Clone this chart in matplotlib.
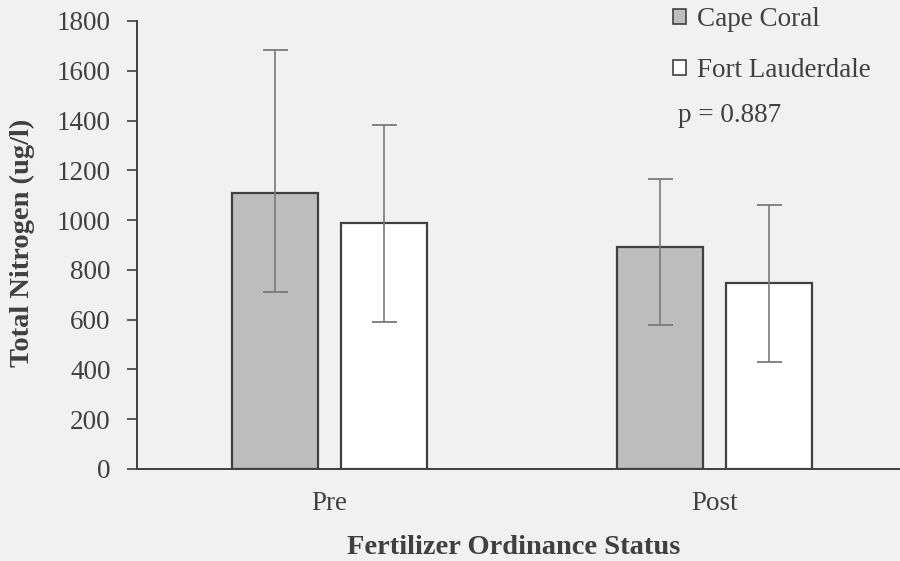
#imports
import numpy as np
import matplotlib.pyplot as plt
from matplotlib.patches import Patch

#data
categories = ["Pre", "Post"]
series_names = ["Cape Coral", "Fort Lauderdale"]
cape_coral = [1110, 893]
cape_coral_err_low = [398, 315]
cape_coral_err_high = [575, 272]
fort_lauderdale = [988, 747]
fort_lauderdale_err_low = [397, 317]
fort_lauderdale_err_high = [394, 314]
y_ticks = [0, 200, 400, 600, 800, 1000, 1200, 1400, 1600, 1800]

#style
plt.rcParams["font.family"] = ["Liberation Serif", "DejaVu Serif"]
bg = "#f1f1f1"
edge = "#404040"
text_col = "#404040"
err_style = dict(ecolor="#7a7a7a", elinewidth=1.2, capsize=9, capthick=1.3)

fig = plt.figure(figsize=(9, 5.61), dpi=100)
fig.patch.set_facecolor(bg)

#axes in pixel terms, right side runs off the edge like the scan
W, H = 900, 561
left, right, bottom, top = 137, 907, 469, 21
ax = fig.add_axes([left / W, 1 - bottom / H, (right - left) / W, (bottom - top) / H])
ax.set_facecolor(bg)

x = np.arange(len(categories))
width = 0.224
offset = 0.142

#bars with (asymmetric) error bars
ax.bar(x - offset, cape_coral, width, color="#bdbdbd", edgecolor=edge, linewidth=1.6,
       yerr=[cape_coral_err_low, cape_coral_err_high], error_kw=err_style)
ax.bar(x + offset, fort_lauderdale, width, color="white", edgecolor=edge, linewidth=1.6,
       yerr=[fort_lauderdale_err_low, fort_lauderdale_err_high], error_kw=err_style)

ax.set_xlim(-0.5, 1.5)
ax.set_ylim(0, 1800)
ax.set_yticks(y_ticks)
ax.set_yticklabels([str(t) for t in y_ticks], fontsize=19.5, color=text_col)
ax.set_xticks(x)
ax.set_xticklabels(categories, fontsize=19.5, color=text_col)
ax.tick_params(axis="x", length=0, pad=16)
ax.tick_params(axis="y", length=7, width=1.2, color=edge, pad=12)

for s in ["top", "right"]:
    ax.spines[s].set_visible(False)
for s in ["left", "bottom"]:
    ax.spines[s].set_color(edge)
    ax.spines[s].set_linewidth(1.4)

#labels
fig.text(22 / W, 1 - 243 / H, "Total Nitrogen (ug/l)", rotation=90, ha="center", va="center",
         fontsize=20.5, fontweight="bold", color=text_col)
fig.text(514 / W, 1 - 547 / H, "Fertilizer Ordinance Status", ha="center", va="center",
         fontsize=20.5, fontweight="bold", color=text_col)

#legend
handles = [Patch(facecolor="#bdbdbd", edgecolor=edge, linewidth=1.2),
           Patch(facecolor="white", edgecolor=edge, linewidth=1.2)]
fig.legend(handles, series_names, loc="upper left", bbox_to_anchor=(649 / W, 1 + 17 / H),
           frameon=False, fontsize=19.5, handlelength=0.48, handleheight=0.48,
           handletextpad=0.4, labelspacing=0.95, labelcolor=text_col)

fig.text(678 / W, 1 - 116 / H, "p = 0.887", ha="left", va="center", fontsize=19.5, color=text_col)

plt.savefig("out.png", dpi=100, facecolor=bg)
